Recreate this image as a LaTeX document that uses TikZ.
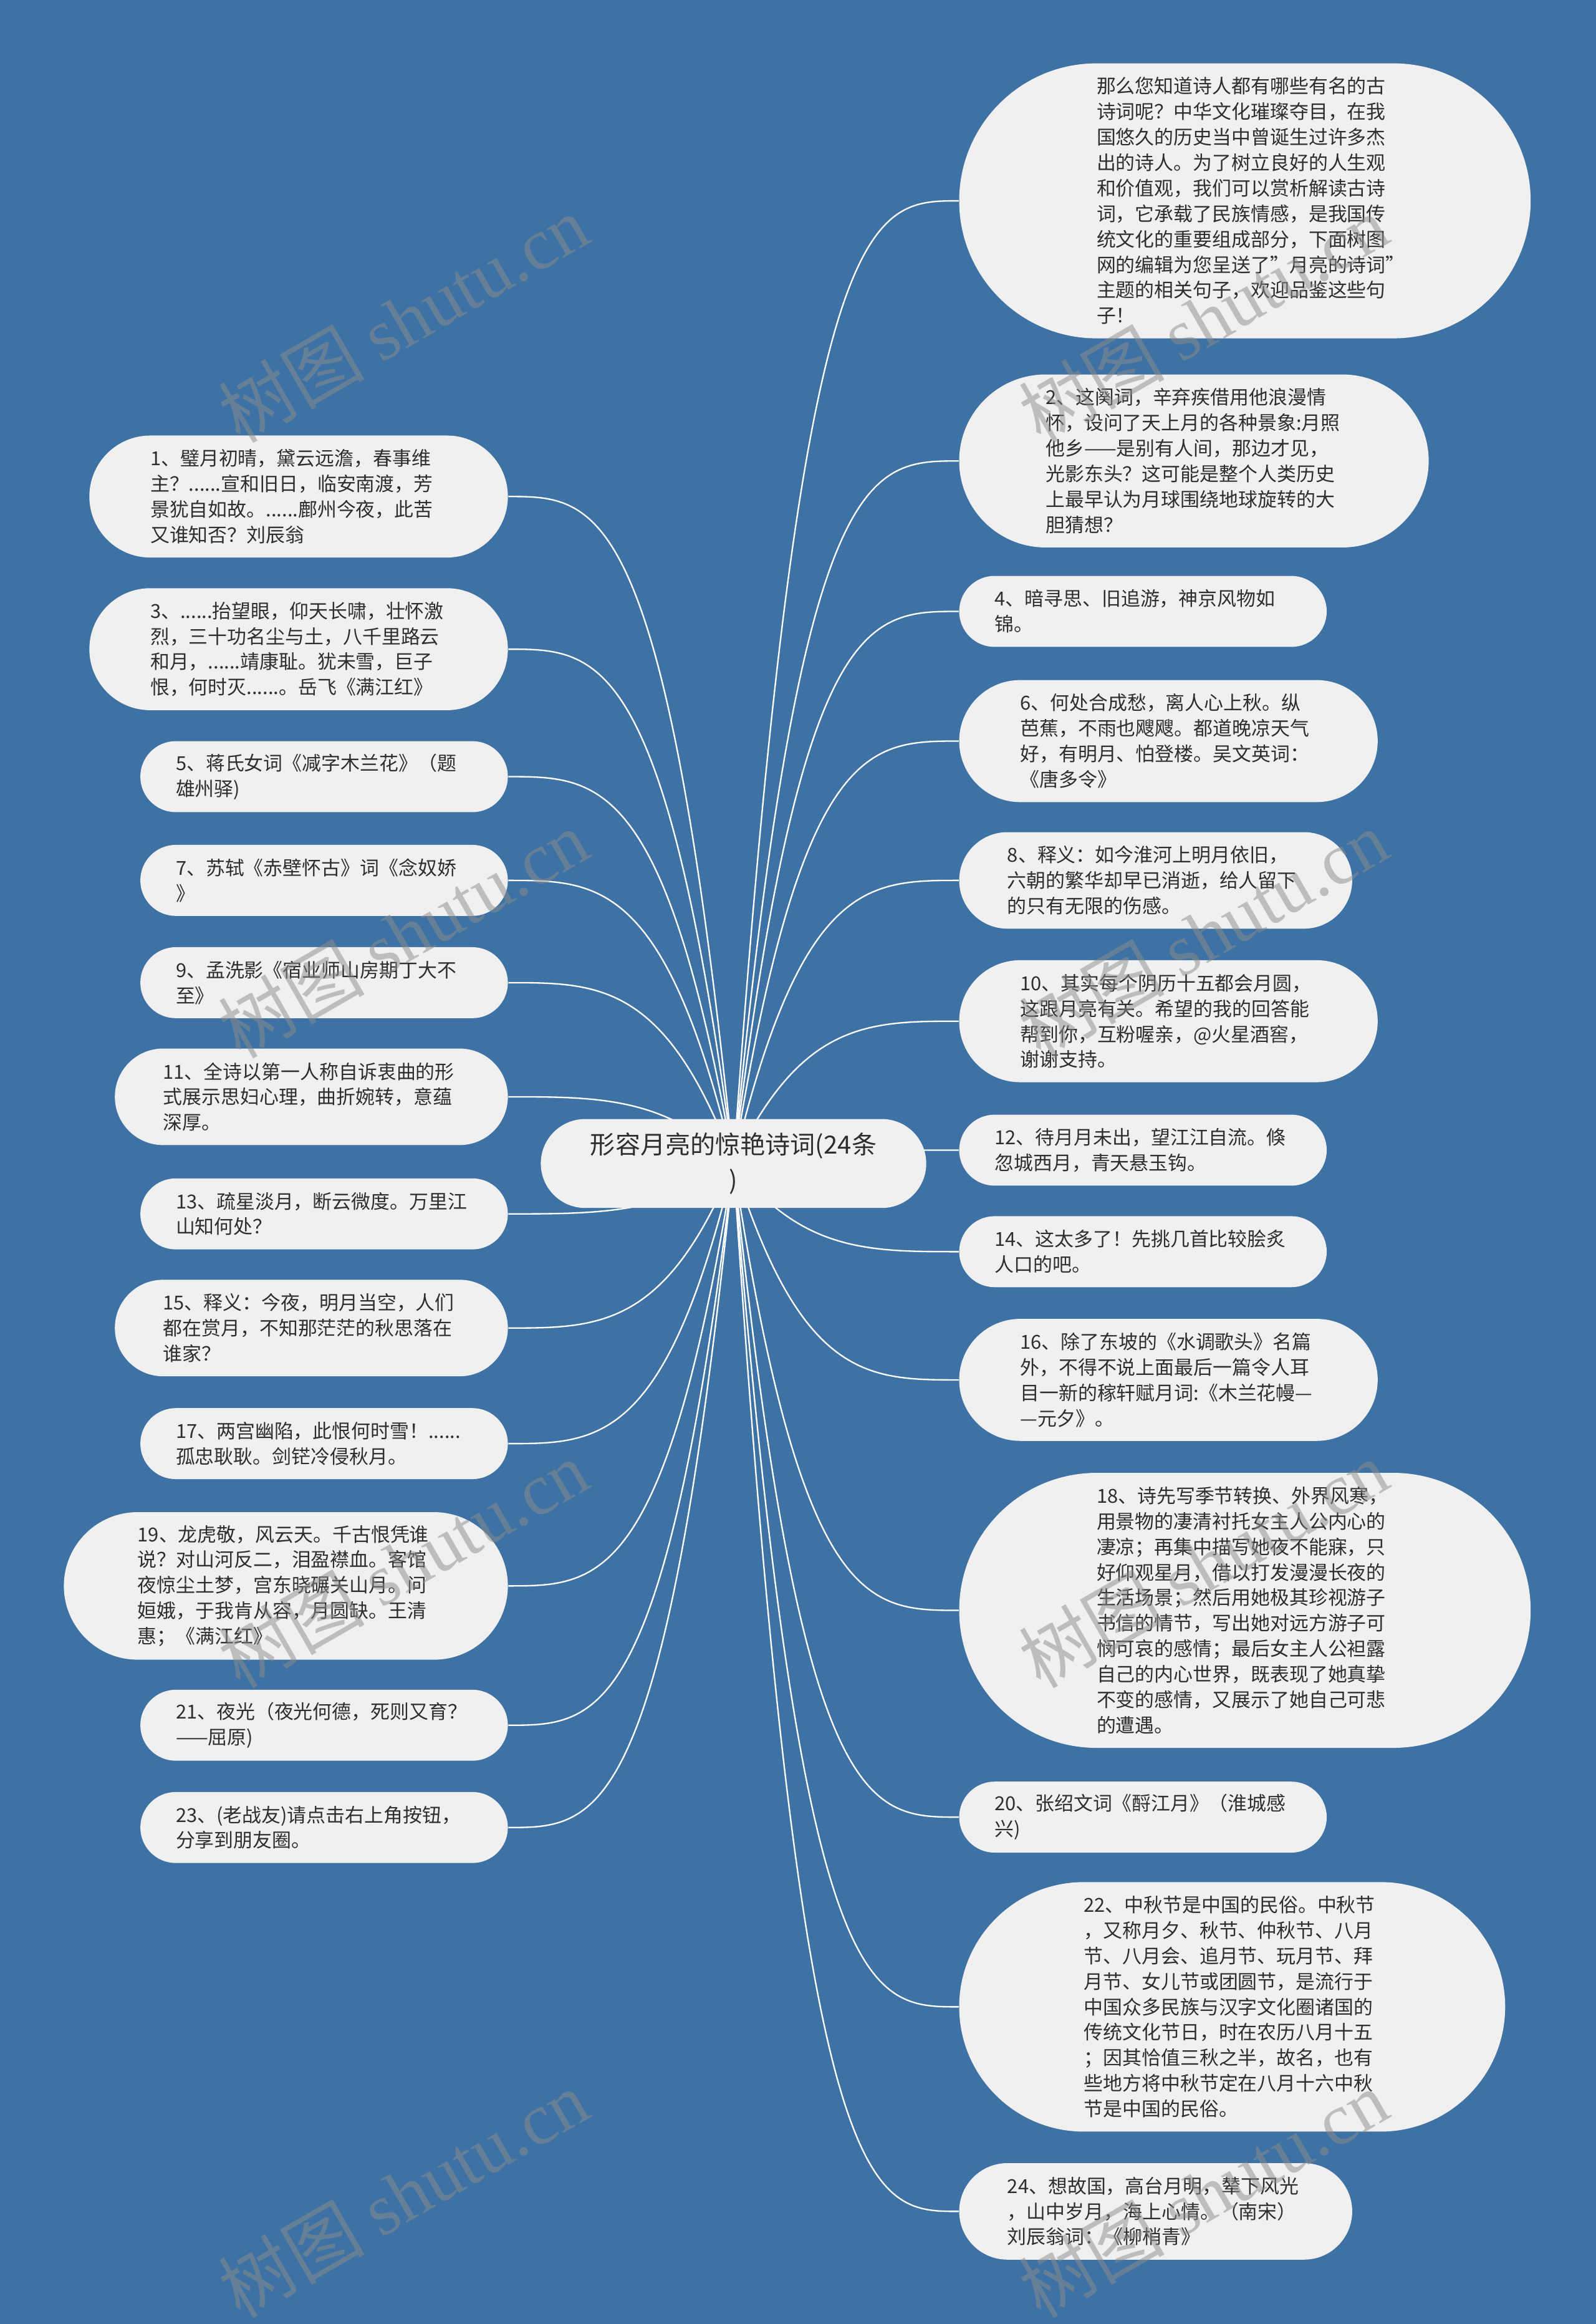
\documentclass[tikz,border=0pt]{standalone}
\usepackage{fontspec}
\usepackage{xcolor}
\usepackage{tikz}
\usetikzlibrary{positioning, calc}
\setmainfont{Noto Sans CJK SC}
\newfontfamily\wmlatin{Liberation Serif}
\definecolor{sea}{HTML}{3E72A4}
\definecolor{paper}{HTML}{F0F0F0}
\definecolor{ink}{HTML}{2E2E2E}
\definecolor{wmgray}{HTML}{8C8C8C}
\pgfdeclarelayer{bg}
\pgfdeclarelayer{links}
\pgfsetlayers{bg,links,main}

\begin{document}
\begin{tikzpicture}[x=0.025cm, y=-0.025cm,
    pill/.style={rectangle, fill=paper, text=ink, inner ysep=0pt, text width=142.3pt,
                 minimum height={(#1)*0.7113pt}, inner xsep={(#1)*0.35565pt},
                 rounded corners={(#1)*0.3555pt}},
    leaf/.style={pill={17.2*#1+13.5}, align=left,
                 font=\fontsize{9.25}{12.23}\selectfont},
    root/.style={pill=60, align=center, font=\fontsize{12}{17}\selectfont},
    link/.style={draw=white, line width=0.7pt,
                 to path={let \p1=(\tikztostart), \p2=(\tikztotarget) in
                   .. controls ({\x1+0.3*(\x2-\x1)},\y2) and ({\x1+0.6*(\x2-\x1)},\y2) .. (\tikztotarget)}},
    wmstyle/.style={text=wmgray, opacity=0.5, rotate=30, font=\fontsize{35}{35}\selectfont}]
  \useasboundingbox (0,0) rectangle (1077,1568);
  \begin{pgfonlayer}{bg}
    \fill[sea] (0,0) rectangle (1077,1568);
  \end{pgfonlayer}

  \node[root] (c) at (495,785) {形容月亮的惊艳诗词(24条\\)};

  \node[leaf=10, anchor=west] (r0) at (647,135.5)
    {那么您知道诗人都有哪些有名的古\\诗词呢？中华文化璀璨夺目，在我\\国悠久的历史当中曾诞生过许多杰\\出的诗人。为了树立良好的人生观\\和价值观，我们可以赏析解读古诗\\词，它承载了民族情感，是我国传\\统文化的重要组成部分，下面树图\\网的编辑为您呈送了\symbol{34}月亮的诗词\symbol{34}\\主题的相关句子，欢迎品鉴这些句\\子！};
  \node[leaf=6, anchor=west] (r2) at (647,311)
    {2、这阕词，辛弃疾借用他浪漫情\\怀，设问了天上月的各种景象:月照\\他乡——是别有人间，那边才见，\\光影东头？这可能是整个人类历史\\上最早认为月球围绕地球旋转的大\\胆猜想？};
  \node[leaf=2, anchor=west] (r4) at (647,412.5)
    {4、暗寻思、旧追游，神京风物如\\锦。};
  \node[leaf=4, anchor=west] (r6) at (647,500)
    {6、何处合成愁，离人心上秋。纵\\芭蕉，不雨也飕飕。都道晚凉天气\\好，有明月、怕登楼。吴文英词：\\《唐多令》};
  \node[leaf=3, anchor=west] (r8) at (647,594)
    {8、释义：如今淮河上明月依旧，\\六朝的繁华却早已消逝，给人留下\\的只有无限的伤感。};
  \node[leaf=4, anchor=west] (r10) at (647,689)
    {10、其实每个阴历十五都会月圆，\\这跟月亮有关。希望的我的回答能\\帮到你，互粉喔亲，@火星酒窖，\\谢谢支持。};
  \node[leaf=2, anchor=west] (r12) at (647,776)
    {12、待月月未出，望江江自流。倏\\忽城西月，青天悬玉钩。};
  \node[leaf=2, anchor=west] (r14) at (647,844.5)
    {14、这太多了！先挑几首比较脍炙\\人口的吧。};
  \node[leaf=4, anchor=west] (r16) at (647,931)
    {16、除了东坡的《水调歌头》名篇\\外，不得不说上面最后一篇令人耳\\目一新的稼轩赋月词:《木兰花幔—\\—元夕》。};
  \node[leaf=10, anchor=west] (r18) at (647,1086.5)
    {18、诗先写季节转换、外界风寒，\\用景物的凄清衬托女主人公内心的\\凄凉；再集中描写她夜不能寐，只\\好仰观星月，借以打发漫漫长夜的\\生活场景；然后用她极其珍视游子\\书信的情节，写出她对远方游子可\\悯可哀的感情；最后女主人公袒露\\自己的内心世界，既表现了她真挚\\不变的感情，又展示了她自己可悲\\的遭遇。};
  \node[leaf=2, anchor=west] (r20) at (647,1226)
    {20、张绍文词《酹江月》（淮城感\\兴)};
  \node[leaf=9, anchor=west] (r22) at (647,1354)
    {22、中秋节是中国的民俗。中秋节\\，又称月夕、秋节、仲秋节、八月\\节、八月会、追月节、玩月节、拜\\月节、女儿节或团圆节，是流行于\\中国众多民族与汉字文化圈诸国的\\传统文化节日，时在农历八月十五\\；因其恰值三秋之半，故名，也有\\些地方将中秋节定在八月十六中秋\\节是中国的民俗。};
  \node[leaf=3, anchor=west] (r24) at (647,1492)
    {24、想故国，高台月明，辇下风光\\，山中岁月，海上心情。（南宋）\\刘辰翁词：《柳梢青》};

  \node[leaf=4, anchor=east] (l1) at (343,335)
    {1、璧月初晴，黛云远澹，春事维\\主？......宣和旧日，临安南渡，芳\\景犹自如故。......鄜州今夜，此苦\\又谁知否？刘辰翁};
  \node[leaf=4, anchor=east] (l3) at (343,438)
    {3、......抬望眼，仰天长啸，壮怀激\\烈，三十功名尘与土，八千里路云\\和月，......靖康耻。犹未雪，巨子\\恨，何时灭......。岳飞《满江红》};
  \node[leaf=2, anchor=east] (l5) at (343,524)
    {5、蒋氏女词《减字木兰花》（题\\雄州驿)};
  \node[leaf=2, anchor=east] (l7) at (343,594)
    {7、苏轼《赤壁怀古》词《念奴娇\\》};
  \node[leaf=2, anchor=east] (l9) at (343,663)
    {9、孟洗影《宿业师山房期丁大不\\至》};
  \node[leaf=3, anchor=east] (l11) at (343,740)
    {11、全诗以第一人称自诉衷曲的形\\式展示思妇心理，曲折婉转，意蕴\\深厚。};
  \node[leaf=2, anchor=east] (l13) at (343,819)
    {13、疏星淡月，断云微度。万里江\\山知何处？};
  \node[leaf=3, anchor=east] (l15) at (343,896)
    {15、释义：今夜，明月当空，人们\\都在赏月，不知那茫茫的秋思落在\\谁家？};
  \node[leaf=2, anchor=east] (l17) at (343,974)
    {17、两宫幽陷，此恨何时雪！......\\孤忠耿耿。剑铓冷侵秋月。};
  \node[leaf=5, anchor=east] (l19) at (343,1070)
    {19、龙虎敬，风云天。千古恨凭谁\\说？对山河反二，泪盈襟血。客馆\\夜惊尘土梦，宫东晓碾关山月。问\\姮娥，于我肯从容，月圆缺。王清\\惠；《满江红》};
  \node[leaf=2, anchor=east] (l21) at (343,1164)
    {21、夜光（夜光何德，死则又育？\\——屈原)};
  \node[leaf=2, anchor=east] (l23) at (343,1233)
    {23、(老战友)请点击右上角按钮，\\分享到朋友圈。};

  \begin{pgfonlayer}{links}
    \foreach \leafname in {r0,r2,r4,r6,r8,r10,r12,r14,r16,r18,r20,r22,r24}
      \draw[link] (c.center) to (\leafname.west);
    \foreach \leafname in {l1,l3,l5,l7,l9,l11,l13,l15,l17,l19,l21,l23}
      \draw[link] (c.center) to (\leafname.east);
  \end{pgfonlayer}

  \foreach \wx/\wy [count=\k] in {272/215, 812/215, 272/630, 812/630,
                                   272/1055, 812/1055, 272/1480, 812/1480}
    \node[wmstyle] (wm\k) at (\wx,\wy) {树图 {\wmlatin shutu.cn}};
\end{tikzpicture}
\end{document}
